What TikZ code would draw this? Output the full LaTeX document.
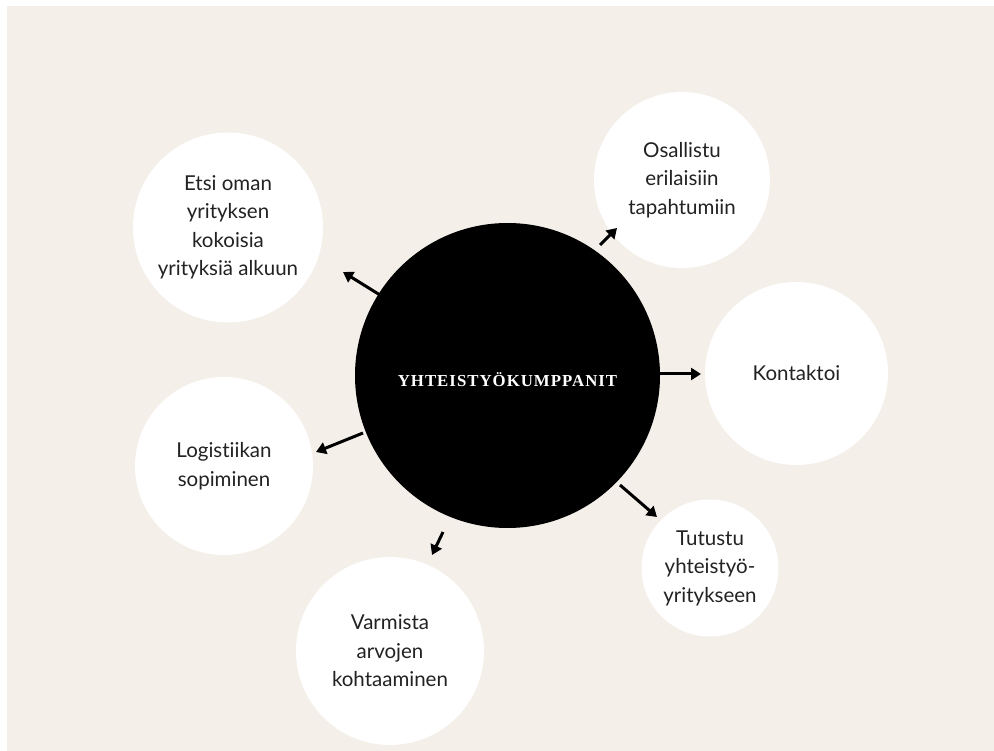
\documentclass[tikz,border=0pt]{standalone}
\usepackage{fontspec}
\setmainfont{Lato}[Ligatures={NoCommon}]
\newfontfamily\titlefont[LetterSpace=6]{Liberation Serif}
\usetikzlibrary{arrows.meta}
\definecolor{bg}{HTML}{F4F0E9}
\definecolor{txt}{HTML}{222222}
\tikzset{
  leaf/.style={circle, fill=white, inner sep=0pt, text=txt, align=center,
    font=\fontsize{20.5}{28.5}\selectfont},
  hub/.style={circle, fill=black, inner sep=0pt, minimum size=305pt, text=white,
    font=\titlefont\bfseries\fontsize{16.8}{18}\selectfont},
  arr/.style={line width=3pt, -{Triangle[length=10pt,width=12pt]}}
}
\begin{document}
\begin{tikzpicture}[x=1pt,y=-1pt]
\useasboundingbox (0,0) rectangle (994,751);
\fill[white] (0,0) rectangle (994,751);
\fill[bg] (7,6) rectangle (994,751);

\node[hub] (c) at (507.5,375.5) {\smash{\raisebox{-11.5pt}{YHTEISTYÖKUMPPANIT}}};

\node[leaf, minimum size=190pt] (n1) at (228,227.5) {Etsi oman\\yrityksen\\kokoisia\\yrityksiä alkuun};
\node[leaf, minimum size=176pt] (n2) at (682,180) {Osallistu\\erilaisiin\\tapahtumiin};
\node[leaf, minimum size=183pt] (n3) at (796.5,373.5) {Kontaktoi};
\node[leaf, minimum size=137pt] (n4) at (710,568) {Tutustu\\yhteistyö-\\yritykseen};
\node[leaf, minimum size=188pt] (n5) at (390,651) {Varmista\\arvojen\\kohtaaminen};
\node[leaf, minimum size=178pt] (n6) at (224,466) {Logistiikan\\sopiminen};

\coordinate (s1) at (380,295);  \coordinate (e1) at (343,272);
\coordinate (s2) at (600,245);  \coordinate (e2) at (617,228);
\coordinate (s3) at (660,374);  \coordinate (e3) at (701,374);
\coordinate (s4) at (620,485);  \coordinate (e4) at (657,517);
\coordinate (s5) at (443,532);  \coordinate (e5) at (432,555);
\coordinate (s6) at (363,433);  \coordinate (e6) at (316,452);

\draw[arr] (s1) -- (e1);
\draw[arr] (s2) -- (e2);
\draw[arr] (s3) -- (e3);
\draw[arr] (s4) -- (e4);
\draw[arr] (s5) -- (e5);
\draw[arr] (s6) -- (e6);
\end{tikzpicture}
\end{document}
